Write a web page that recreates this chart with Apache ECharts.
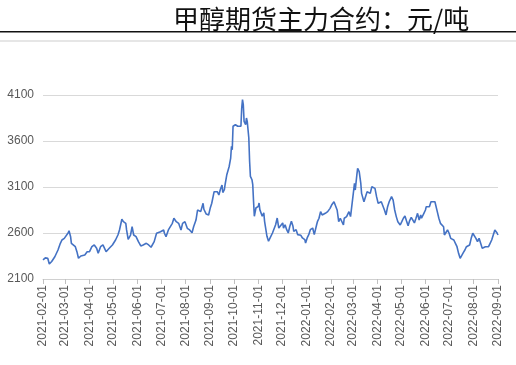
<!DOCTYPE html>
<html>
<head>
<meta charset="utf-8">
<script src="https://cdn.jsdelivr.net/npm/echarts@6/dist/echarts.min.js"></script>
<style>html,body{margin:0;padding:0;background:#fff;}#chart{width:516px;height:365px;}</style>
</head>
<body>
<div id="chart"></div>
<script>
const titleText = '甲醇期货主力合约：元/吨';
const axisStart = '2021-02-01';
const axisEnd = '2022-09-01';
const yMin = 2100, yMax = 4100, yStep = 500;

const dates2021 = [
'2021-02-01','2021-02-02','2021-02-04','2021-02-07','2021-02-09','2021-02-12','2021-02-16','2021-02-20','2021-02-23','2021-02-25','2021-02-26','2021-02-28',
'2021-03-02','2021-03-05','2021-03-06','2021-03-08','2021-03-09','2021-03-11','2021-03-14','2021-03-16','2021-03-18','2021-03-21','2021-03-26','2021-03-29','2021-03-31',
'2021-04-01','2021-04-04','2021-04-07','2021-04-10','2021-04-12','2021-04-15','2021-04-18','2021-04-20','2021-04-22','2021-04-26','2021-04-30',
'2021-05-04','2021-05-07','2021-05-09','2021-05-12','2021-05-14','2021-05-17','2021-05-18','2021-05-20','2021-05-23','2021-05-25','2021-05-27','2021-05-30',
'2021-06-02','2021-06-05','2021-06-08','2021-06-12','2021-06-15','2021-06-18','2021-06-20','2021-06-22','2021-06-25','2021-06-27','2021-06-30',
'2021-07-04','2021-07-05','2021-07-07','2021-07-10','2021-07-12','2021-07-15','2021-07-17','2021-07-20','2021-07-23','2021-07-26','2021-07-28','2021-07-31',
'2021-08-03','2021-08-06','2021-08-09','2021-08-11','2021-08-14','2021-08-16','2021-08-18','2021-08-20','2021-08-23','2021-08-24','2021-08-27','2021-08-29','2021-08-30',
'2021-09-01','2021-09-03','2021-09-06','2021-09-08','2021-09-10','2021-09-12','2021-09-14','2021-09-16','2021-09-17','2021-09-19','2021-09-20','2021-09-22','2021-09-24','2021-09-25','2021-09-27','2021-09-28','2021-09-29','2021-09-30',
'2021-10-03','2021-10-06','2021-10-08','2021-10-10','2021-10-11','2021-10-12','2021-10-13','2021-10-14','2021-10-16','2021-10-17','2021-10-18','2021-10-20','2021-10-21','2021-10-22','2021-10-24','2021-10-25','2021-10-26','2021-10-27','2021-10-29','2021-10-30',
'2021-11-01','2021-11-02','2021-11-03','2021-11-05','2021-11-06','2021-11-08','2021-11-09','2021-11-10','2021-11-12','2021-11-14','2021-11-16','2021-11-19','2021-11-21','2021-11-23','2021-11-25','2021-11-27','2021-11-28',
'2021-12-02','2021-12-03','2021-12-05','2021-12-07','2021-12-09','2021-12-11','2021-12-13','2021-12-15','2021-12-16','2021-12-19','2021-12-21','2021-12-23','2021-12-25','2021-12-27','2021-12-30','2021-12-31'
];
const values2021 = [
2307,2288,2330,2325,2263,2290,2342,2415,2488,2524,2506,2542,
2560,2603,2625,2560,2488,2488,2451,2397,2325,2350,2361,2397,2415,
2397,2451,2470,2434,2380,2451,2470,2451,2397,2434,2470,
2524,2578,2633,2749,2723,2705,2633,2531,2578,2668,2578,2560,
2506,2459,2470,2488,2470,2445,2434,2506,2597,2578,2614,
2633,2597,2560,2633,2651,2705,2760,2723,2705,2633,2705,2723,
2651,2633,2603,2668,2741,2850,2868,2832,2923,2858,2806,2814,2796,
2868,2923,3049,3031,3049,3013,3075,3122,3040,3071,3130,3230,3216,3320,3415,3543,3505,3760,
3777,3760,3741,3760,3959,4049,3995,3814,3777,3850,3814,3633,3379,3216,3179,3125,2945,2782,2872,2854,
2890,2926,2854,2872,2782,2818,2727,2673,2564,2510,2546,2600,2618,2690,2763,2654,2673,
2709,2654,2690,2636,2600,2673,2727,2673,2618,2636,2582,2564,2575,2546,2528,2491
];
const dates2022 = [
'2022-01-02','2022-01-04','2022-01-06','2022-01-09','2022-01-11','2022-01-12','2022-01-14','2022-01-15','2022-01-17','2022-01-19','2022-01-21','2022-01-23','2022-01-25','2022-01-28','2022-01-31',
'2022-02-02','2022-02-05','2022-02-07','2022-02-09','2022-02-11','2022-02-13','2022-02-15','2022-02-17','2022-02-18','2022-02-21','2022-02-23','2022-02-24','2022-02-26','2022-02-28',
'2022-03-02','2022-03-03','2022-03-04','2022-03-06','2022-03-07','2022-03-09','2022-03-11','2022-03-12','2022-03-15','2022-03-17','2022-03-19','2022-03-21','2022-03-23','2022-03-25','2022-03-27','2022-03-29','2022-03-31',
'2022-04-02','2022-04-04','2022-04-06','2022-04-08','2022-04-10','2022-04-12','2022-04-14','2022-04-16','2022-04-19','2022-04-21','2022-04-23','2022-04-25','2022-04-27','2022-04-30',
'2022-05-02','2022-05-04','2022-05-06','2022-05-08','2022-05-10','2022-05-12','2022-05-14','2022-05-16','2022-05-18','2022-05-20','2022-05-22','2022-05-24','2022-05-26','2022-05-27','2022-05-30',
'2022-06-01','2022-06-02','2022-06-04','2022-06-06','2022-06-08','2022-06-10','2022-06-13','2022-06-15','2022-06-16','2022-06-18','2022-06-20','2022-06-22','2022-06-24','2022-06-25','2022-06-27','2022-06-29',
'2022-07-01','2022-07-03','2022-07-05','2022-07-07','2022-07-09','2022-07-11','2022-07-13','2022-07-15','2022-07-17','2022-07-19','2022-07-21','2022-07-23','2022-07-25','2022-07-27','2022-07-29','2022-07-31',
'2022-08-02','2022-08-04','2022-08-06','2022-08-08','2022-08-10','2022-08-12','2022-08-14','2022-08-16','2022-08-18','2022-08-20','2022-08-22','2022-08-24','2022-08-26','2022-08-28','2022-08-30','2022-08-31','2022-09-01'
];
const values2022 = [
2546,2582,2636,2654,2582,2580,2690,2723,2760,2832,2796,2778,2814,2832,2868,
2904,2940,2958,2850,2723,2760,2741,2687,2760,2778,2796,2832,2778,2923,
3067,3140,3067,3231,3303,3267,3140,3031,2940,2995,3049,3067,3031,3103,3122,3085,2995,
2923,2904,2940,2958,2850,2796,2886,2940,2995,2958,2850,2778,2723,2687,
2723,2760,2785,2730,2680,2735,2770,2760,2710,2760,2814,2741,2796,2760,2814,
2850,2886,2868,2886,2940,2923,2940,2923,2832,2760,2705,2712,2668,2578,2560,2633,
2597,2542,2560,2524,2488,2451,2379,2325,2336,2386,2415,2451,2445,2470,2542,2597,
2578,2542,2506,2542,2524,2434,2451,2451,2434,2451,2488,2524,2578,2633,2614,2597,2578
];

// calendar-day categories for the x axis
function dayList(start, end) {
  const out = [];
  const [sy, sm, sd] = start.split('-').map(Number);
  const [ey, em, ed] = end.split('-').map(Number);
  let t = Date.UTC(sy, sm - 1, sd);
  const te = Date.UTC(ey, em - 1, ed);
  while (t <= te) { out.push(new Date(t).toISOString().slice(0, 10)); t += 86400000; }
  return out;
}
const categories = dayList(axisStart, axisEnd);
const allDates = dates2021.concat(dates2022);
const allValues = values2021.concat(values2022);
const seriesData = allDates.map((d, i) => [d, allValues[i]]);
const isMonthStart = (idx, val) => val.slice(8) === '01';

const chart = echarts.init(document.getElementById('chart'));
chart.setOption({
  animation: false,
  backgroundColor: '#ffffff',
  title: {
    text: titleText,
    left: 168, top: 1,
    textStyle: { fontSize: 26, fontWeight: 'normal', color: '#111', fontFamily: 'Noto Sans CJK SC' }
  },
  graphic: [
    { type: 'rect', shape: { x: 0, y: 31, width: 516, height: 1.6 }, style: { fill: '#111' }, silent: true },
    { type: 'rect', shape: { x: 0, y: 40, width: 516, height: 2 }, style: { fill: '#e6e6e6' }, silent: true }
  ],
  grid: { left: 43, right: 18, top: 95, bottom: 86 },
  xAxis: {
    type: 'category',
    data: categories,
    boundaryGap: false,
    axisLine: { lineStyle: { color: '#d0d0d0', width: 1 } },
    axisTick: { show: true, interval: isMonthStart, length: 5, lineStyle: { color: '#c0c0c0' } },
    axisLabel: {
      interval: isMonthStart, rotate: 90, margin: 6,
      fontSize: 12, color: '#595959', fontFamily: 'Liberation Sans'
    },
    splitLine: { show: false }
  },
  yAxis: {
    type: 'value',
    min: yMin, max: yMax, interval: yStep,
    axisLine: { show: false },
    axisTick: { show: false },
    axisLabel: { fontSize: 12, color: '#595959', margin: 9, fontFamily: 'Liberation Sans', formatter: (v) => String(v) },
    splitLine: { lineStyle: { color: '#d9d9d9', width: 1 } }
  },
  series: [{
    type: 'line',
    data: seriesData,
    showSymbol: false,
    symbol: 'none',
    lineStyle: { color: '#4472c4', width: 1.6 },
    itemStyle: { color: '#4472c4' }
  }]
});
</script>
</body>
</html>
